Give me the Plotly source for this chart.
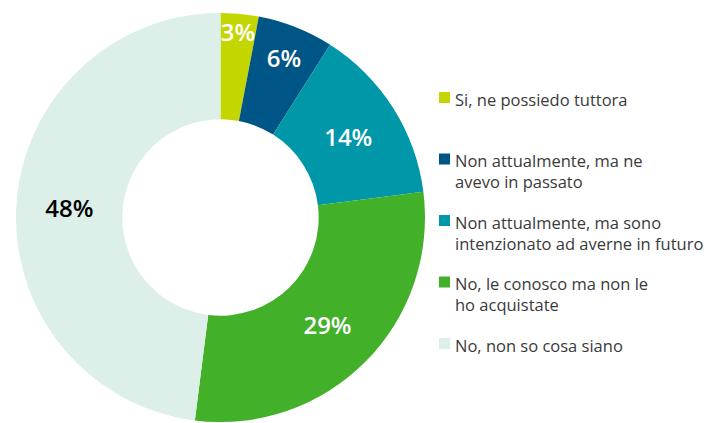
import plotly.graph_objects as go

# ---- data ----
labels = [
    "Si, ne possiedo tuttora",
    "Non attualmente, ma ne<br>avevo in passato",
    "Non attualmente, ma sono<br>intenzionato ad averne in futuro",
    "No, le conosco ma non le<br>ho acquistate",
    "No, non so cosa siano",
]
values = [3, 6, 14, 29, 48]
colors = ["#c4d600", "#005587", "#0097a9", "#43b02a", "#ddefe9"]
text_colors = ["#ffffff", "#ffffff", "#ffffff", "#ffffff", "#000000"]

# page body has an 8px default margin: build the figure in page coords minus 8
OFF = 8
W, H = 720 - OFF, 423 - OFF
FONT = "Open Sans"


def px(x):
    return (x - OFF) / W


def py(y):
    return (H - (y - OFF)) / H


fig = go.Figure(
    go.Pie(
        labels=labels,
        values=values,
        hole=0.48,
        sort=False,
        direction="clockwise",
        rotation=0,
        marker=dict(colors=colors, line=dict(width=0)),
        texttemplate="%{value}%",
        textposition="inside",
        insidetextorientation="horizontal",
        textfont=dict(family=FONT, size=24, color=text_colors, weight=600),
        hoverinfo="skip",
        showlegend=False,
        domain=dict(x=[px(15), px(426)], y=[py(422), py(13)]),
    )
)

# ---- manual legend (built from the data lists) ----
y_first = 97.5
step = 61.5
fs = 16.5
line_h = fs * 1.3
for i, (lab, col) in enumerate(zip(labels, colors)):
    yc = y_first + i * step
    fig.add_shape(
        type="rect", xref="paper", yref="paper",
        x0=px(439), x1=px(450),
        y0=py(yc + 5.5), y1=py(yc - 5.5),
        fillcolor=col, line=dict(width=0),
    )
    fig.add_annotation(
        xref="paper", yref="paper",
        x=px(453), y=py(yc - line_h / 2 - 1),
        xanchor="left", yanchor="top", align="left",
        text=lab, showarrow=False,
        font=dict(family=FONT, size=fs, color="#3a3a3a"),
    )

fig.update_layout(
    width=W, height=H,
    margin=dict(l=0, r=0, t=0, b=0),
    paper_bgcolor="white", plot_bgcolor="white",
    uniformtext=dict(minsize=24, mode="show"),
    font=dict(family=FONT),
)

fig.write_html("out.html")
